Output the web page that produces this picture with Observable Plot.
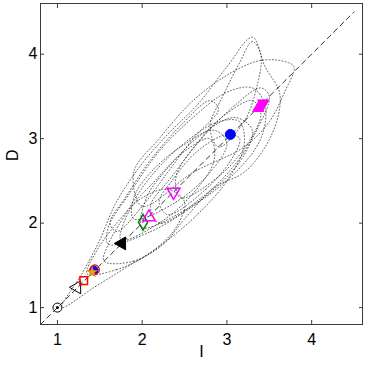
<!DOCTYPE html>
<html>
<head>
<meta charset="utf-8">
<script src="https://cdn.jsdelivr.net/npm/d3@7"></script>
<script src="https://cdn.jsdelivr.net/npm/@observablehq/plot@0.6"></script>
<style>
  html, body { margin: 0; padding: 0; background: #fff; }
</style>
</head>
<body>
<div id="chart"></div>
<script>
// ---- data ----
const tickValues = [1, 2, 3, 4];
const diagX = [0.8, 4.5];

// marker positions (I, D)
const markerNames = ["origin", "openLeftTri", "redSquare", "blueDotA", "redRing", "orangeStar", "blackLeftTri", "greenDiamond", "magentaUpOpen", "magentaDownOpen", "blueDotB", "magentaUpFilled", "magentaDownFilled"];
const markerX = [1.00, 1.23, 1.31, 1.43, 1.44, 1.41, 1.76, 2.01, 2.08, 2.37, 3.04, 3.37, 3.43];
const markerY = [1.00, 1.24, 1.32, 1.44, 1.45, 1.42, 1.76, 2.01, 2.07, 2.37, 3.05, 3.36, 3.42];

// dotted closed trajectories (I, D)
const loopA = [[1.05,1.00],[1.45,1.25],[1.85,1.50],[2.25,1.75],[2.50,2.05],[2.85,2.42],[3.20,2.60],[3.45,2.90],[3.60,3.25],[3.62,3.55],[3.45,3.85],[3.30,4.20],[3.00,3.85],[2.65,3.40],[2.30,3.05],[1.98,2.68],[1.68,2.22],[1.50,1.80],[1.30,1.42]];
const loopB = [[2.00,2.20],[2.60,2.60],[3.20,2.90],[3.50,3.20],[3.68,3.55],[3.79,3.85],[3.65,3.92],[3.37,3.92],[3.00,3.75],[2.60,3.45],[2.20,3.00],[1.90,2.60]];
const loopC = [[1.60,1.75],[2.10,1.90],[2.60,2.20],[3.10,2.60],[3.40,3.00],[3.45,3.40],[3.30,3.60],[3.00,3.55],[2.60,3.25],[2.20,2.85],[1.85,2.35],[1.60,1.95]];
const loopD = [[1.55,1.55],[1.90,1.55],[2.30,1.80],[2.70,2.15],[3.00,2.50],[3.20,2.90],[3.15,3.20],[2.90,3.20],[2.50,2.95],[2.10,2.55],[1.80,2.10],[1.60,1.75]];
const loopE = [[1.35,1.40],[1.70,1.45],[2.10,1.65],[2.40,1.95],[2.50,2.25],[2.30,2.40],[2.00,2.30],[1.70,2.00],[1.45,1.65]];
const loopF = [[2.00,1.95],[2.50,2.15],[2.90,2.45],[3.20,2.80],[3.30,3.10],[3.10,3.25],[2.70,3.05],[2.30,2.65],[2.05,2.30]];
const loopG = [[2.20,2.00],[2.70,2.30],[3.10,2.70],[3.35,3.10],[3.50,3.50],[3.40,3.60],[3.10,3.40],[2.70,3.00],[2.35,2.55],[2.10,2.20]];
const loopH = [[2.90,2.90],[3.20,3.20],[3.35,3.60],[3.40,4.00],[3.30,4.15],[3.15,3.90],[2.95,3.50],[2.80,3.15]];
const loopI = [[1.75,1.80],[2.20,2.00],[2.60,2.35],[2.85,2.75],[2.80,3.00],[2.50,2.85],[2.15,2.50],[1.85,2.15]];
const loopJ = [[2.30,2.10],[2.75,2.40],[3.05,2.75],[3.15,3.00],[3.00,3.05],[2.65,2.85],[2.35,2.50],[2.20,2.25]];
const loopK = [[1.90,2.05],[2.40,2.25],[2.80,2.60],[3.00,2.95],[2.85,3.10],[2.45,2.90],[2.10,2.60],[1.90,2.30]];
const loopL = [[1.70,1.90],[2.00,2.20],[2.30,2.60],[2.60,3.00],[2.90,3.35],[2.80,3.45],[2.45,3.15],[2.10,2.75],[1.80,2.30],[1.62,2.00]];
const loopM = [[2.45,2.30],[2.90,2.55],[3.25,2.95],[3.40,3.30],[3.30,3.45],[3.00,3.30],[2.65,2.95],[2.40,2.55]];

// ---- build ----
const loops = [loopA, loopB, loopC, loopD, loopE, loopF, loopG, loopH, loopI, loopJ, loopK, loopL, loopM];
const loopRows = loops.flatMap((pts, i) => pts.map(([x, y]) => ({x, y, id: i})));

const markers = markerNames.map((name, i) => ({name, x: markerX[i], y: markerY[i]}));
const style = {
  origin:            {symbol: "circle",   r: 4.5, fill: "none", stroke: "#000", sw: 1},
  openLeftTri:       {symbol: "triangle", r: 4.8, fill: "none", stroke: "#000", sw: 1, rotate: -90},
  redSquare:         {symbol: "square",   r: 4.3, fill: "none", stroke: "#ff0000", sw: 1.5},
  blueDotA:          {symbol: "circle",   r: 4.3, fill: "#0000ff", stroke: "#0000ff", sw: 1},
  redRing:           {symbol: "circle",   r: 4.6, fill: "none", stroke: "#ff0000", sw: 1.3},
  orangeStar:        {symbol: "star",     r: 3.2, fill: "#f0a020", stroke: "#d08000", sw: 0.8},
  blackLeftTri:      {symbol: "triangle", r: 4.8, fill: "#000", stroke: "#000", sw: 1, rotate: -90},
  greenDiamond:      {symbol: "diamond",  r: 4.8, fill: "none", stroke: "#008000", sw: 1.5},
  magentaUpOpen:     {symbol: "triangle", r: 4.7, fill: "none", stroke: "#ff00ff", sw: 1.5},
  magentaDownOpen:   {symbol: "triangle", r: 4.8, fill: "none", stroke: "#ff00ff", sw: 1.5, rotate: 180},
  blueDotB:          {symbol: "circle",   r: 5,   fill: "#0000ff", stroke: "#0000ff", sw: 1},
  magentaUpFilled:   {symbol: "triangle", r: 4.2, fill: "#ff00ff", stroke: "#ff00ff", sw: 1},
  magentaDownFilled: {symbol: "triangle", r: 4.2, fill: "#ff00ff", stroke: "#ff00ff", sw: 1, rotate: 180}
};
const markerMarks = markers.map(m => {
  const s = style[m.name];
  return Plot.dot([m], {x: "x", y: "y", symbol: s.symbol, r: s.r, fill: s.fill, stroke: s.stroke, strokeWidth: s.sw, rotate: s.rotate || 0});
});

const axisColor = "#3a3a3a";
const fmt = d => String(d);
const chart = Plot.plot({
  width: 366,
  height: 368,
  marginLeft: 40,
  marginRight: 4,
  marginTop: 3,
  marginBottom: 44,
  style: {fontFamily: "'Liberation Sans', Arial, Helvetica, sans-serif", fontSize: "16px", color: "#000", background: "#fff"},
  x: {domain: [0.8, 4.6]},
  y: {domain: [0.8, 4.6]},
  marks: [
    Plot.line(loopRows, {x: "x", y: "y", z: "id", curve: "catmull-rom-closed", stroke: "#222", strokeWidth: 1, strokeDasharray: "1 2.2", strokeOpacity: 0.7}),
    Plot.line(diagX.map(v => ({x: v, y: v})), {x: "x", y: "y", stroke: "#000", strokeWidth: 0.8, strokeDasharray: "5 4"}),
    ...markerMarks,
    Plot.dot([markers[0]], {x: "x", y: "y", r: 1.5, fill: "#000"}),
    Plot.frame({stroke: axisColor}),
    Plot.axisX(tickValues, {anchor: "bottom", tickSize: -4, tickPadding: 13, tickFormat: fmt, stroke: axisColor, label: null, fontSize: 16}),
    Plot.axisX(tickValues, {anchor: "top", tickSize: -4, tickFormat: () => "", stroke: axisColor, label: null}),
    Plot.axisY(tickValues, {anchor: "left", tickSize: -4, tickPadding: 7, tickFormat: fmt, stroke: axisColor, label: null, fontSize: 16}),
    Plot.axisY(tickValues, {anchor: "right", tickSize: -4, tickFormat: () => "", stroke: axisColor, label: null}),
    Plot.text(["I"], {frameAnchor: "bottom", dy: 32, text: d => d, fontSize: 16}),
    Plot.text(["D"], {frameAnchor: "left", dx: -28, dy: -3, rotate: -90, text: d => d, fontSize: 16})
  ]
});
document.getElementById("chart").appendChild(chart);
</script>
</body>
</html>
